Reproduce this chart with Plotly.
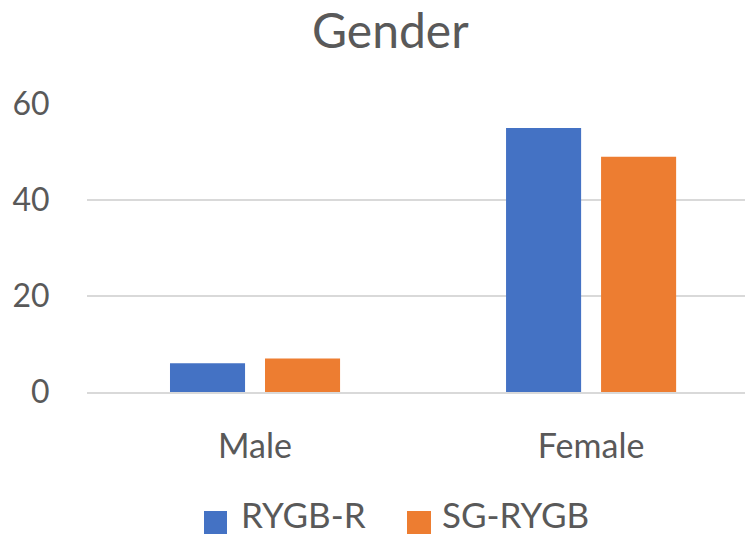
import plotly.graph_objects as go

categories = ["Male", "Female"]
rygb_r = [6, 55]
sg_rygb = [7, 49]
series_names = ["RYGB-R", "SG-RYGB"]
colors = ["#4472C4", "#ED7D31"]
y_ticks = [0, 20, 40, 60]

FONT = "Lato, 'Open Sans', sans-serif"
GREY = "#595959"

fig = go.Figure()
for name, vals, col in zip(series_names, [rygb_r, sg_rygb], colors):
    fig.add_trace(go.Bar(x=categories, y=vals, name=name, marker_color=col,
                         marker_line_width=0, showlegend=False))

# Manual legend (large square swatches like the original)
legend_swatch_x = [(0.1778, 0.2128), (0.4863, 0.5228)]
legend_text_x = [0.232, 0.5375]
shapes = []
annotations = []
for (x0, x1), tx, name, col in zip(legend_swatch_x, legend_text_x, series_names, colors):
    shapes.append(dict(type="rect", xref="paper", yref="paper", x0=x0, x1=x1,
                       y0=-0.4931, y1=-0.4132, fillcolor=col, line=dict(width=0)))
    annotations.append(dict(text=name, xref="paper", yref="paper", x=tx, y=-0.4985,
                            xanchor="left", yanchor="bottom", showarrow=False,
                            borderpad=0,
                            font=dict(family=FONT, size=35, color=GREY)))

fig.update_layout(
    width=745, height=536,
    margin=dict(l=87, r=0, t=104, b=144),
    paper_bgcolor="white", plot_bgcolor="white",
    barmode="group", bargap=0.4345, bargroupgap=0.21,
    title=dict(text="Gender", x=0.524, xanchor="center", y=0.942, yanchor="middle",
               font=dict(family=FONT, size=48, color=GREY)),
    font=dict(family=FONT, color=GREY),
    showlegend=False,
    shapes=shapes,
    annotations=annotations,
    xaxis=dict(range=[-0.5, 1.458], showgrid=False, showline=True, linecolor="#D9D9D9",
               linewidth=1.5, tickfont=dict(family=FONT, size=34, color=GREY),
               ticks="outside", ticklen=23, tickcolor="rgba(0,0,0,0)", zeroline=False),
    yaxis=dict(range=[0, 60], tickvals=y_ticks, showgrid=True, gridcolor="#D9D9D9",
               gridwidth=1.5, zeroline=False, showline=False,
               tickfont=dict(family=FONT, size=32, color=GREY),
               ticks="outside", ticklen=30, tickcolor="rgba(0,0,0,0)"),
)

fig.write_html(
    "out.html",
    config={"displayModeBar": False},
    post_script="document.body.style.margin='0';document.body.style.overflow='hidden';",
)
